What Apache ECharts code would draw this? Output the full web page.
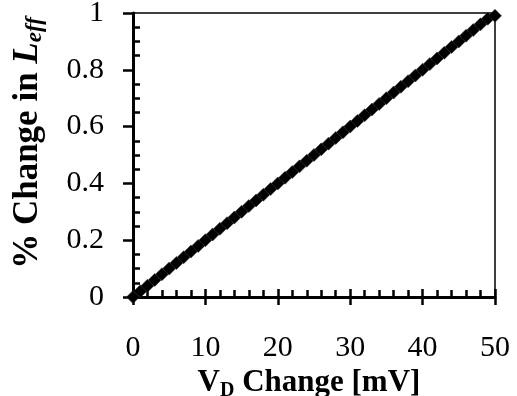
<!DOCTYPE html>
<html>
<head>
<meta charset="utf-8">
<script src="https://cdn.jsdelivr.net/npm/echarts@6/dist/echarts.min.js"></script>
<style>
html,body{margin:0;padding:0;background:#fff;}
#chart{width:517px;height:396px;}
</style>
</head>
<body>
<div id="chart"></div>
<script>
// Data
var vdChange = [0,1,2,3,4,5,6,7,8,9,10,11,12,13,14,15,16,17,18,19,20,21,22,23,24,25,26,27,28,29,30,31,32,33,34,35,36,37,38,39,40,41,42,43,44,45,46,47,48,49,50];
var leffChange = [0,0.02,0.04,0.06,0.08,0.10,0.12,0.14,0.16,0.18,0.20,0.22,0.24,0.26,0.28,0.30,0.32,0.34,0.36,0.38,0.40,0.42,0.44,0.46,0.48,0.50,0.52,0.54,0.56,0.58,0.60,0.62,0.64,0.66,0.68,0.70,0.72,0.74,0.76,0.78,0.80,0.82,0.84,0.86,0.88,0.90,0.92,0.94,0.96,0.98,0.99];
var xTicks = [0,10,20,30,40,50];
var yTicks = [0,0.2,0.4,0.6,0.8,1];

var FONT = 'Liberation Serif';
var pts = vdChange.map(function(v,i){return [v, leffChange[i]];});

var chart = echarts.init(document.getElementById('chart'), null, {renderer:'canvas'});
chart.setOption({
  backgroundColor:'#fff',
  animation:false,
  grid:{left:133,right:22,top:13,bottom:99,show:true,borderColor:'#000',borderWidth:1.5,backgroundColor:'transparent',containLabel:false,outerBoundsMode:'none'},
  xAxis:[{
    type:'value',min:xTicks[0],max:xTicks[xTicks.length-1],interval:10,
    axisLine:{show:true,onZero:false,lineStyle:{color:'#000',width:3}},
    axisTick:{show:true,inside:false,length:8,lineStyle:{color:'#000',width:2.5}},
    splitLine:{show:false},
    axisLabel:{color:'#000',fontFamily:FONT,fontSize:30,margin:36},
    name:'{v|V}{d|D}{v| Change [mV]}',
    nameLocation:'middle',nameGap:54,
    nameTextStyle:{padding:[0,10,0,0],rich:{
      v:{fontFamily:FONT,fontWeight:'bold',fontSize:31,color:'#000'},
      d:{fontFamily:FONT,fontWeight:'bold',fontSize:20,color:'#000',padding:[14,0,0,0]}
    }}
  },{
    type:'value',min:xTicks[0],max:xTicks[xTicks.length-1],interval:10,position:'bottom',
    axisLine:{show:false},
    axisTick:{show:true,inside:true,length:8,lineStyle:{color:'#000',width:2.5}},
    minorTick:{show:true,splitNumber:5,length:7,lineStyle:{color:'#000',width:2.5}},
    splitLine:{show:false},axisLabel:{show:false}
  }],
  yAxis:[{
    type:'value',min:yTicks[0],max:yTicks[yTicks.length-1],interval:0.2,
    axisLine:{show:true,onZero:false,lineStyle:{color:'#000',width:3}},
    axisTick:{show:true,inside:false,length:10,lineStyle:{color:'#000',width:2.5}},
    splitLine:{show:false},
    axisLabel:{color:'#000',fontFamily:FONT,fontSize:30,margin:29},
    name:'{b|% Change in }{l|L}{s|eff}',
    nameLocation:'middle',nameGap:86,nameRotate:90,
    nameTextStyle:{padding:[0,0,0,24],rich:{
      b:{fontFamily:FONT,fontWeight:'bold',fontSize:35,color:'#000'},
      l:{fontFamily:FONT,fontWeight:'bold',fontStyle:'italic',fontSize:35,color:'#000'},
      s:{fontFamily:FONT,fontWeight:'bold',fontStyle:'italic',fontSize:23,color:'#000',padding:[15,0,0,0]}
    }}
  },{
    type:'value',min:yTicks[0],max:yTicks[yTicks.length-1],interval:0.2,position:'left',
    axisLine:{show:false},
    axisTick:{show:true,inside:true,length:2,lineStyle:{color:'#000',width:2.5}},
    minorTick:{show:true,splitNumber:4,length:7,lineStyle:{color:'#000',width:2.5}},
    splitLine:{show:false},axisLabel:{show:false}
  }],
  series:[{
    type:'line',xAxisIndex:0,yAxisIndex:0,
    data:pts,
    symbol:'diamond',symbolSize:13,showSymbol:true,
    itemStyle:{color:'#000',borderColor:'#333',borderWidth:0.5},
    lineStyle:{color:'#000',width:4},
    clip:false
  }]
});
</script>
</body>
</html>
